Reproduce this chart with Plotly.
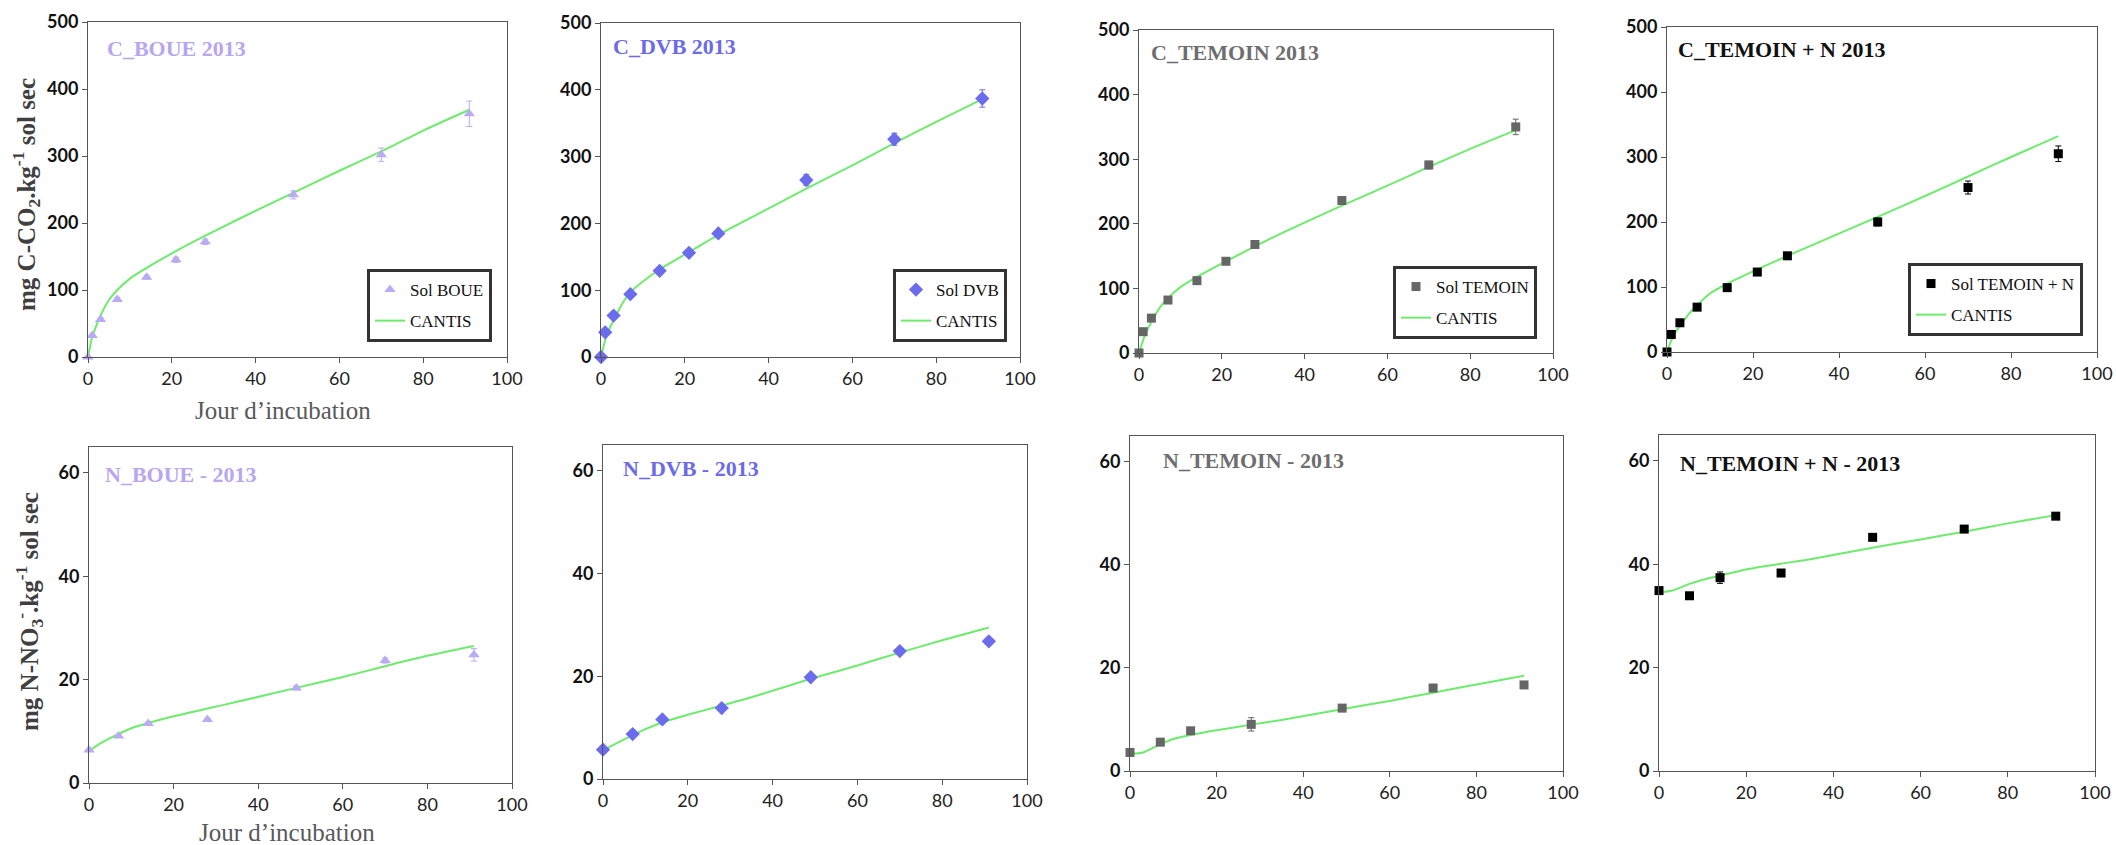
import plotly.graph_objects as go

W, H = 2116, 845

# ---------------- data ----------------
C_days = [0, 1, 3, 7, 14, 21, 28, 49, 70, 91]
C_boue = [0, 32, 56, 86, 119, 145, 172, 242, 302, 363]
C_boue_err = [0, 2, 3, 3, 3, 4, 4, 6, 10, 19]
C_dvb = [0, 37, 62, 94, 129, 156, 185, 265, 326, 387]
C_dvb_err = [0, 2, 2, 3, 3, 3, 4, 8, 9, 13]
C_tem = [0, 33, 54, 82, 112, 142, 168, 236, 291, 350]
C_tem_err = [0, 2, 2, 3, 3, 3, 4, 5, 6, 12]
C_temn = [0, 27, 45, 69, 99, 123, 148, 200, 253, 305]
C_temn_err = [0, 2, 2, 3, 3, 3, 4, 6, 10, 12]

C_model_days = [0, 1, 2, 3, 5, 7, 10, 14, 21, 28, 35, 49, 60, 70, 80, 91]
C_boue_cantis = [0, 30, 47, 62, 85, 100, 117, 133, 158, 181, 203, 245, 278, 307, 338, 369]
C_dvb_cantis = [0, 25, 42, 55, 79, 97, 113, 131, 157, 183, 206, 252, 287, 320, 352, 386]
C_tem_cantis = [0, 20, 36, 48, 70, 85, 102, 118, 142, 165, 187, 228, 259, 288, 316, 345]
C_temn_cantis = [0, 18, 31, 40, 58, 72, 90, 105, 127, 148, 168, 208, 240, 270, 300, 332]

N_days = [0, 7, 14, 28, 49, 70, 91]
N_boue = [6.4, 9.1, 11.5, 12.3, 18.4, 23.7, 24.8]
N_boue_err = [0.3, 0.3, 0.3, 0.3, 0.4, 0.5, 1.2]
N_dvb = [5.7, 8.75, 11.6, 13.8, 19.8, 24.9, 26.8]
N_dvb_err = [0.2, 0.3, 0.3, 0.3, 0.3, 0.4, 0.3]
N_tem = [3.6, 5.6, 7.8, 9.05, 12.2, 16.1, 16.7]
N_tem_err = [0.2, 0.2, 0.3, 1.3, 0.3, 0.3, 0.3]
N_temn = [34.9, 33.9, 37.4, 38.3, 45.2, 46.8, 49.3]
N_temn_err = [0.3, 0.4, 1.1, 0.3, 0.3, 0.6, 0.3]

N_model_days = [0, 3, 7, 10, 14, 20, 28, 35, 49, 60, 70, 80, 91]
N_boue_cantis = [6.2, 7.8, 9.5, 10.6, 11.6, 12.9, 14.4, 15.7, 18.4, 20.5, 22.6, 24.6, 26.5]
N_dvb_cantis = [5.6, 6.9, 8.5, 9.7, 11.0, 12.5, 14.3, 15.9, 19.5, 22.1, 24.6, 27.0, 29.5]
N_tem_cantis = [3.3, 3.6, 5.2, 6.2, 7.0, 7.9, 9.0, 9.9, 12.0, 13.6, 15.2, 16.8, 18.5]
N_temn_cantis = [34.5, 34.9, 36.2, 37.0, 37.8, 39.0, 40.1, 41.0, 43.2, 44.8, 46.3, 47.9, 49.5]

C_titles = ["C_BOUE 2013", "C_DVB 2013", "C_TEMOIN 2013", "C_TEMOIN + N 2013"]
N_titles = ["N_BOUE - 2013", "N_DVB - 2013", "N_TEMOIN - 2013", "N_TEMOIN + N - 2013"]
series_names = ["Sol BOUE", "Sol DVB", "Sol TEMOIN", "Sol TEMOIN + N"]
model_name = "CANTIS"
x_title = "Jour d\u2019incubation"
yC_title = "<b>mg C-CO<sub>2</sub>.kg<sup>-1</sup> sol sec</b>"
yN_title = "<b>mg N-NO<sub>3</sub><sup>-</sup>.kg<sup>-1</sup> sol sec</b>"
x_ticks = [0, 20, 40, 60, 80, 100]
yC_ticks = [0, 100, 200, 300, 400, 500]
yN_ticks = [0, 20, 40, 60]

# ---------------- styles ----------------
colors = ["#BBABF3", "#6B6BEE", "#666666", "#000000"]
title_colors = ["#B8A6F0", "#6B6BE8", "#6E6E6E", "#111111"]
symbols = ["triangle-up", "diamond", "square", "square"]
msizes = [10, 11, 9, 9]
line_color = "#6EEB6E"
serif = "Liberation Serif, Times New Roman, serif"
sans = "Lato, Open Sans, sans-serif"

# plot areas in pixels (left, right, top, bottom)
C_boxes = [(88, 507, 22, 357), (601, 1020, 23, 357), (1139, 1553, 30, 353), (1667, 2097, 27, 352)]
N_boxes = [(89, 512, 447, 783), (603, 1027, 445, 779), (1130, 1563, 436, 771), (1659, 2095, 435, 771)]
legend_pos = [(492, 342), (1007, 342), (1537, 339), (2083, 336)]
title_pos_C = [(105, 48), (611, 46), (1149, 52), (1676, 50)]
title_pos_N = [(103, 474), (621, 468), (1161, 461), (1678, 463)]

C_data = [(C_boue, C_boue_err, C_boue_cantis), (C_dvb, C_dvb_err, C_dvb_cantis),
          (C_tem, C_tem_err, C_tem_cantis), (C_temn, C_temn_err, C_temn_cantis)]
N_data = [(N_boue, N_boue_err, N_boue_cantis), (N_dvb, N_dvb_err, N_dvb_cantis),
          (N_tem, N_tem_err, N_tem_cantis), (N_temn, N_temn_err, N_temn_cantis)]

fig = go.Figure()
layout = {}
annotations = []


def px_x(v):
    return v / W


def px_y(v):
    return 1 - v / H


def add_panel(idx, box, days, vals, errs, mdays, mvals, yrange, yticks, color, symbol, msize,
              legend_name, sname, title, tcolor, tpos):
    ax = "" if idx == 1 else str(idx)
    l, r, t, b = box
    xa = dict(domain=[px_x(l), px_x(r)], range=[0, 100], tickvals=x_ticks,
              showline=True, mirror=True, linecolor="#555555", linewidth=1,
              ticks="outside", ticklen=5, tickcolor="#555555", automargin=False,
              showgrid=False, zeroline=False, anchor="y" + ax,
              tickfont=dict(family=sans, size=18, color="#222222"))
    ya = dict(domain=[px_y(b), px_y(t)], range=yrange, tickvals=yticks,
              showline=True, mirror=True, linecolor="#555555", linewidth=1,
              ticks="outside", ticklen=5, tickcolor="#555555", automargin=False,
              showgrid=False, zeroline=False, anchor="x" + ax,
              tickfont=dict(family=sans, size=18, color="#111111", weight="bold"))
    layout["xaxis" + ax] = xa
    layout["yaxis" + ax] = ya
    show = legend_name is not None
    fig.add_trace(go.Scatter(
        x=mdays, y=mvals, mode="lines", name=model_name,
        line=dict(color=line_color, width=2, shape="spline", smoothing=0.6),
        xaxis="x" + ax, yaxis="y" + ax, showlegend=show, legend=legend_name if show else None,
        legendrank=2, legendgroup="m%d" % idx))
    fig.add_trace(go.Scatter(
        x=days, y=vals, mode="markers", name=sname,
        marker=dict(symbol=symbol, size=msize, color=color, line=dict(width=0)),
        error_y=dict(type="data", array=errs, visible=True, thickness=1, width=3, color=color),
        xaxis="x" + ax, yaxis="y" + ax, showlegend=show, legend=legend_name if show else None,
        legendrank=1, legendgroup="s%d" % idx, cliponaxis=False))
    annotations.append(dict(text="<b>%s</b>" % title, xref="paper", yref="paper",
                            x=px_x(tpos[0]), y=px_y(tpos[1]), xanchor="left", yanchor="middle",
                            showarrow=False, font=dict(family=serif, size=22, color=tcolor)))


for i in range(4):
    vals, errs, mvals = C_data[i]
    lname = "legend" if i == 0 else "legend%d" % (i + 1)
    add_panel(i + 1, C_boxes[i], C_days, vals, errs, C_model_days, mvals, [0, 500], yC_ticks,
              colors[i], symbols[i], msizes[i], lname, series_names[i], C_titles[i],
              title_colors[i], title_pos_C[i])
    lx, ly = legend_pos[i]
    layout[lname] = dict(x=px_x(lx), y=px_y(ly), xanchor="right", yanchor="bottom",
                         bgcolor="white", bordercolor="#333333", borderwidth=3,
                         font=dict(family=serif, size=17, color="#111111"),
                         traceorder="grouped", tracegroupgap=6, itemwidth=30)

for i in range(4):
    vals, errs, mvals = N_data[i]
    add_panel(i + 5, N_boxes[i], N_days, vals, errs, N_model_days, mvals, [0, 65], yN_ticks,
              colors[i], symbols[i], msizes[i], None, series_names[i], N_titles[i],
              title_colors[i], title_pos_N[i])

# axis titles
annotations.append(dict(text=yC_title, xref="paper", yref="paper", x=px_x(26), y=px_y(195),
                        xanchor="center", yanchor="middle", textangle=-90, showarrow=False,
                        font=dict(family=serif, size=25, color="#404040")))
annotations.append(dict(text=yN_title, xref="paper", yref="paper", x=px_x(29), y=px_y(612),
                        xanchor="center", yanchor="middle", textangle=-90, showarrow=False,
                        font=dict(family=serif, size=25, color="#404040")))
annotations.append(dict(text=x_title, xref="paper", yref="paper", x=px_x(283), y=px_y(410),
                        xanchor="center", yanchor="middle", showarrow=False,
                        font=dict(family=serif, size=25, color="#595959")))
annotations.append(dict(text=x_title, xref="paper", yref="paper", x=px_x(287), y=px_y(832),
                        xanchor="center", yanchor="middle", showarrow=False,
                        font=dict(family=serif, size=25, color="#595959")))

fig.update_layout(width=W, height=H, margin=dict(l=0, r=0, t=0, b=0, pad=0, autoexpand=False),
                  paper_bgcolor="white", plot_bgcolor="white", annotations=annotations, **layout)

fig.write_html("out.html", config={"displayModeBar": False},
               post_script="document.body.style.margin='0px';"
                           "document.documentElement.style.overflow='hidden';"
                           "document.body.style.overflow='hidden';")
